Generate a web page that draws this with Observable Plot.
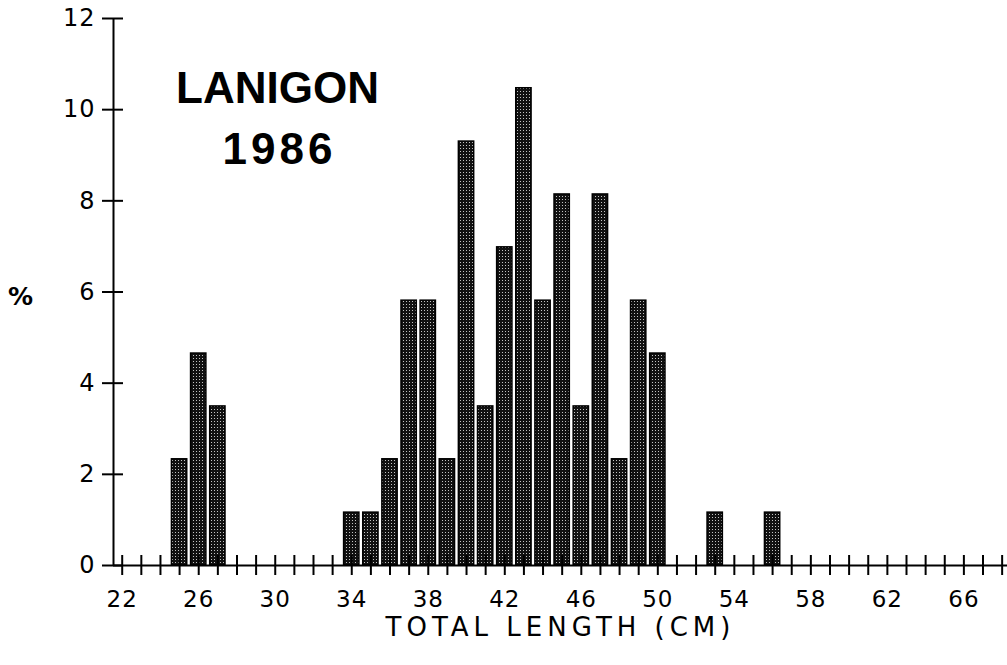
<!DOCTYPE html>
<html>
<head>
<meta charset="utf-8">
<script src="https://cdn.jsdelivr.net/npm/d3@7"></script>
<script src="https://cdn.jsdelivr.net/npm/@observablehq/plot@0.6"></script>
<style>
  html, body { margin: 0; padding: 0; background: #fff; }
  #chart svg { display: block; }
</style>
</head>
<body>
<div id="chart"></div>
<script>
// Total length classes (cm)
const lengths = [25, 26, 27, 34, 35, 36, 37, 38, 39, 40, 41, 42, 43, 44, 45, 46, 47, 48, 49, 50, 53, 56];
// Percent of fish in each class
const percents = [2.33, 4.65, 3.49, 1.16, 1.16, 2.33, 5.81, 5.81, 2.33, 9.30, 3.49, 6.98, 10.47, 5.81, 8.14, 3.49, 8.14, 2.33, 5.81, 4.65, 1.16, 1.16];
const yTicks = [0, 2, 4, 6, 8, 10, 12];
const xMinorTicks = d3.range(22, 69, 1);
const xLabelTicks = [22, 26, 30, 34, 38, 42, 46, 50, 54, 58, 62, 66];
const titleLines = ["LANIGON", "1986"];
const xLabel = "TOTAL LENGTH (CM)";
const yLabel = "%";

const data = lengths.map((len, i) => ({len, pct: percents[i]}));
const xDomain = [21.545, 68.28];

const chart = Plot.plot({
  width: 1007,
  height: 665,
  marginLeft: 113,
  marginRight: 0,
  marginTop: 18,
  marginBottom: 100,
  style: {fontFamily: "DejaVu Sans", color: "#000", background: "#fff"},
  x: {domain: xDomain},
  y: {domain: [0, 12]},
  marks: [
    Plot.rectY(data, {
      x1: d => d.len - 0.4,
      x2: d => d.len + 0.4,
      y: "pct",
      fill: "url(#dots)",
      stroke: "#000",
      strokeWidth: 1.5
    }),
    Plot.ruleY([0], {stroke: "#000", strokeWidth: 2}),
    Plot.ruleX([xDomain[0]], {y1: 0, y2: 12, stroke: "#000", strokeWidth: 2}),
    Plot.axisY({ticks: yTicks, tickSize: 21, dx: 10, tickFormat: () => "", label: null, strokeWidth: 2}),
    Plot.axisX({ticks: xMinorTicks, tickSize: 20, dy: -10, tickFormat: () => "", label: null, strokeWidth: 2}),
    Plot.text(yTicks, {y: d => d, frameAnchor: "left", dx: -18, textAnchor: "end", lineAnchor: "middle", fontSize: 24}),
    Plot.text(xLabelTicks, {x: d => d, frameAnchor: "bottom", dy: 34, textAnchor: "middle", lineAnchor: "middle", fontSize: 23}),
    Plot.text([titleLines[0]], {frameAnchor: "top-left", dx: 164, dy: 70, lineAnchor: "middle", fontSize: 44, fontWeight: "bold", fontFamily: "Liberation Sans", textAnchor: "middle"}),
    Plot.text([titleLines[1]], {frameAnchor: "top-left", dx: 166, dy: 131, lineAnchor: "middle", fontSize: 44, fontWeight: "bold", fontFamily: "Liberation Sans", textAnchor: "middle"}),
    Plot.text([xLabel], {frameAnchor: "bottom", dy: 62, lineAnchor: "middle", fontSize: 26, textAnchor: "middle"}),
    Plot.text([yLabel], {frameAnchor: "left", dx: -93, dy: 5, lineAnchor: "middle", fontSize: 25, textAnchor: "middle", fontWeight: "bold"})
  ]
});

const defs = `<defs><pattern id="dots" width="3" height="3" patternUnits="userSpaceOnUse">
  <rect width="3" height="3" fill="#111"/><rect x="1" y="1" width="1" height="1" fill="#fff" opacity="0.75"/>
</pattern></defs>`;
chart.insertAdjacentHTML("afterbegin", defs);
// letter spacing to mimic the wide typeface of the original
d3.select(chart).selectAll("text").each(function () {
  const t = this.textContent;
  if (t === xLabel) this.style.letterSpacing = "5px";
  else if (t === titleLines[1]) this.style.letterSpacing = "4px";
  else if (/^\d+$/.test(t)) this.style.letterSpacing = "1px";
});
document.getElementById("chart").appendChild(chart);
</script>
</body>
</html>
